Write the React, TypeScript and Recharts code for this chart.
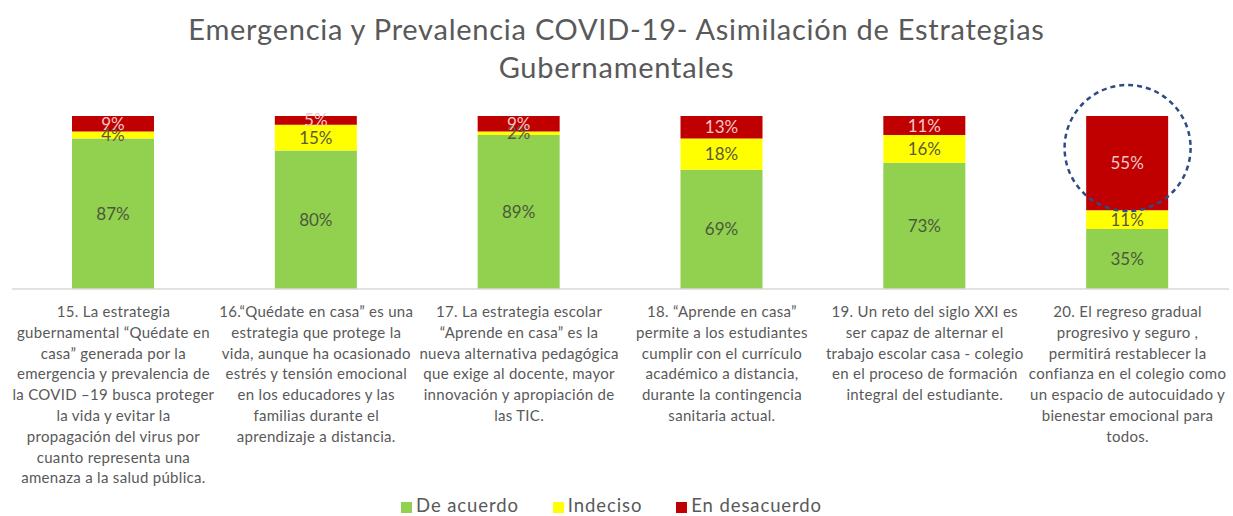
import React from "react";
import {
  BarChart,
  Bar,
  XAxis,
  YAxis,
  Legend,
  LabelList,
  ReferenceDot,
} from "recharts";

const categories = ["15", "16", "17", "18", "19", "20"];
const deAcuerdo = [87, 80, 89, 69, 73, 35];
const indeciso = [4, 15, 2, 18, 16, 11];
const enDesacuerdo = [9, 5, 9, 13, 11, 55];
const seriesNames = ["De acuerdo", "Indeciso", "En desacuerdo"];

const tickLabels: string[][] = [
  [
    "15. La estrategia",
    "gubernamental “Quédate en",
    "casa” generada por la",
    "emergencia y prevalencia de",
    "la COVID –19 busca proteger",
    "la vida y evitar la",
    "propagación del virus por",
    "cuanto representa una",
    "amenaza a la salud pública.",
  ],
  [
    "16.“Quédate en casa” es una",
    "estrategia que protege la",
    "vida, aunque ha ocasionado",
    "estrés y tensión emocional",
    "en los educadores y las",
    "familias durante el",
    "aprendizaje a distancia.",
  ],
  [
    "17. La estrategia escolar",
    "“Aprende en casa” es la",
    "nueva alternativa pedagógica",
    "que exige al docente, mayor",
    "innovación y apropiación de",
    "las TIC.",
  ],
  [
    "18. “Aprende en casa”",
    "permite a los estudiantes",
    "cumplir con el currículo",
    "académico a distancia,",
    "durante la contingencia",
    "sanitaria actual.",
  ],
  [
    "19. Un reto del siglo XXI es",
    "ser capaz de alternar el",
    "trabajo escolar casa - colegio",
    "en el proceso de formación",
    "integral del estudiante.",
  ],
  [
    "20. El regreso gradual",
    "progresivo y seguro ,",
    "permitirá restablecer la",
    "confianza en el colegio como",
    "un espacio de autocuidado y",
    "bienestar emocional para",
    "todos.",
  ],
];

const data = categories.map((c, i) => ({
  name: c,
  deAcuerdo: deAcuerdo[i],
  indeciso: indeciso[i],
  enDesacuerdo: enDesacuerdo[i],
}));

const FONT = "Lato, 'Open Sans', sans-serif";

const CategoryTick = (props: any) => {
  const { x, y, payload } = props;
  const idx = categories.indexOf(payload.value);
  const lines = tickLabels[idx] || [];
  return (
    <text
      x={x}
      y={y + 20}
      textAnchor="middle"
      fill="#595959"
      fontSize={15}
      letterSpacing={0.3}
      fontFamily={FONT}
    >
      {lines.map((l, i) => (
        <tspan key={i} x={x} dy={i === 0 ? 0 : 20.8}>
          {l}
        </tspan>
      ))}
    </text>
  );
};

const pct = (v: any) => `${v}%`;

export default function App() {
  return (
    <div
      style={{
        position: "absolute",
        left: 0,
        top: 0,
        width: 1233,
        height: 516,
        background: "#fff",
        fontFamily: FONT,
      }}
    >
      <div
        style={{
          position: "absolute",
          top: 10,
          left: 0,
          width: 1233,
          textAlign: "center",
          color: "#595959",
          fontSize: 29,
          letterSpacing: 0.75,
          lineHeight: "38px",
        }}
      >
        Emergencia y Prevalencia COVID-19- Asimilación de Estrategias
        <br />
        Gubernamentales
      </div>
      <BarChart
        width={1233}
        height={516}
        data={data}
        stackOffset="expand"
        margin={{ top: 116, right: 4, left: 12, bottom: 0 }}
      >
        <XAxis
          dataKey="name"
          axisLine={{ stroke: "#d9d9d9", strokeWidth: 1.5 }}
          tickLine={false}
          interval={0}
          height={197}
          tick={<CategoryTick />}
        />
        <YAxis hide domain={[0, 1]} />
        <Legend
          verticalAlign="bottom"
          height={30}
          iconType="square"
          iconSize={11}
          itemSorter={(item: any) => seriesNames.indexOf(item.value)}
          wrapperStyle={{ fontSize: 18.5, color: "#595959", bottom: -8, left: 20 }}
          formatter={(value: any) => (
            <span
              style={{ color: "#595959", marginRight: 24, letterSpacing: 0.9 }}
            >
              {value}
            </span>
          )}
        />
        <Bar
          dataKey="deAcuerdo"
          name={seriesNames[0]}
          stackId="a"
          fill="#92d050"
          barSize={82}
          isAnimationActive={false}
        >
          <LabelList
            dataKey="deAcuerdo"
            position="center"
            formatter={pct}
            fill="#4a5a3c"
            fontSize={17}
            fontFamily={FONT}
          />
        </Bar>
        <Bar
          dataKey="indeciso"
          name={seriesNames[1]}
          stackId="a"
          fill="#ffff00"
          barSize={82}
          isAnimationActive={false}
        >
          <LabelList
            dataKey="indeciso"
            position="center"
            formatter={pct}
            fill="#5a5a3a"
            fontSize={17}
            fontFamily={FONT}
          />
        </Bar>
        <Bar
          dataKey="enDesacuerdo"
          name={seriesNames[2]}
          stackId="a"
          fill="#c00000"
          barSize={82}
          isAnimationActive={false}
        >
          <LabelList
            dataKey="enDesacuerdo"
            position="center"
            formatter={pct}
            fill="#f4c7c7"
            fontSize={17}
            fontFamily={FONT}
          />
        </Bar>
        <ReferenceDot
          x={categories[5]}
          y={0.815}
          r={63}
          fill="none"
          stroke="#2e4a87"
          strokeWidth={2.5}
          strokeDasharray="5 4"
          ifOverflow="visible"
        />
      </BarChart>
    </div>
  );
}
